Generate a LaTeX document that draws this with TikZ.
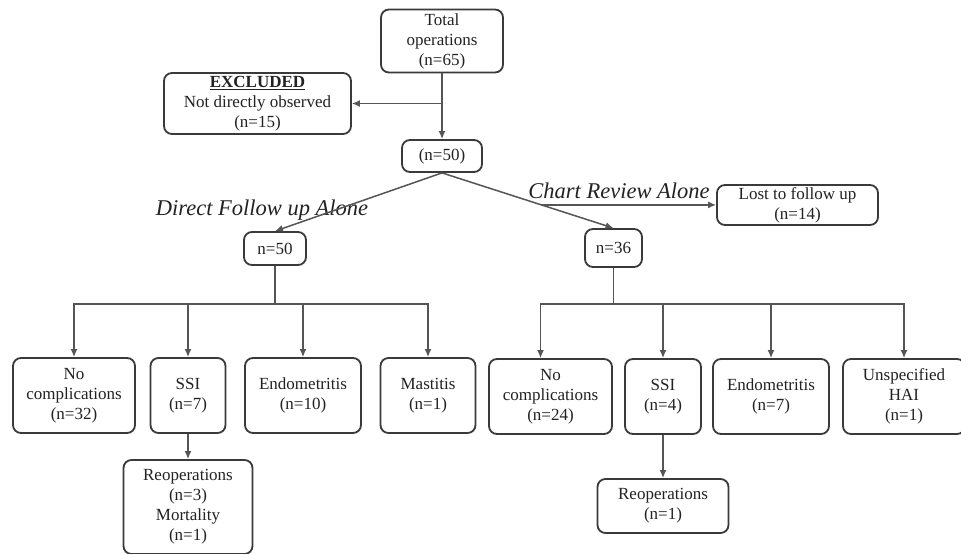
\documentclass[tikz,border=0pt]{standalone}
\usepackage{fontspec}
\setmainfont{Liberation Serif}
\usetikzlibrary{arrows.meta,calc}
\definecolor{boxline}{HTML}{3A3A3A}
\definecolor{conline}{HTML}{555555}
\definecolor{txt}{HTML}{222222}
\begin{document}
\begin{tikzpicture}[x=1pt,y=-1pt,
  box/.style={draw=boxline,line width=1.8pt,rounded corners=8pt,align=center,inner sep=0pt,
    text=txt,font=\fontsize{17}{20}\selectfont},
  con/.style={draw=conline,line width=1.5pt},
  arr/.style={con,-{Latex[length=8pt,width=7pt]}},
  lab/.style={font=\fontsize{22.5}{26}\selectfont\itshape,inner sep=0pt,text=txt}]
\useasboundingbox (0,0) rectangle (961,554);
\fill[white] (0,0) rectangle (961,554);
% top
\node[box,minimum width=122pt,minimum height=63pt] (total) at (442,41) {Total\\operations\\(n=65)};
\node[box,minimum width=187pt,minimum height=61pt] (excl) at (257.5,103.5) {\textbf{\underline{EXCLUDED}}\\Not directly observed\\(n=15)};
\node[box,minimum width=80pt,minimum height=32pt] (n50top) at (442,156) {(n=50)};
\node[box,minimum width=62pt,minimum height=33pt] (n50) at (275,248.5) {n=50};
\node[box,minimum width=57pt,minimum height=38pt] (n36) at (613.5,248) {n=36};
\node[box,minimum width=161pt,minimum height=40pt] (lost) at (797.5,205) {Lost to follow up\\(n=14)};
\node[lab] (dfa) at (262,210) {Direct Follow up Alone};
\node[lab] (cra) at (619,191) {Chart Review Alone};
% left children
\node[box,minimum width=122pt,minimum height=75pt] (nc1) at (74,395.5) {No\\complications\\(n=32)};
\node[box,minimum width=75pt,minimum height=75pt] (ssi1) at (188,395.5) {SSI\\(n=7)};
\node[box,minimum width=116pt,minimum height=75pt] (end1) at (303,395.5) {Endometritis\\(n=10)};
\node[box,minimum width=95pt,minimum height=75pt] (mas) at (428,395.5) {Mastitis\\(n=1)};
\node[box,minimum width=129pt,minimum height=94pt] (reo1) at (188,507) {Reoperations\\(n=3)\\Mortality\\(n=1)};
% right children
\node[box,minimum width=123pt,minimum height=75pt] (nc2) at (550.5,396.5) {No\\complications\\(n=24)};
\node[box,minimum width=76pt,minimum height=75pt] (ssi2) at (663,396.5) {SSI\\(n=4)};
\node[box,minimum width=116pt,minimum height=75pt] (end2) at (771,396.5) {Endometritis\\(n=7)};
\node[box,minimum width=122pt,minimum height=75pt] (hai) at (904,396.5) {Unspecified\\HAI\\(n=1)};
\node[box,minimum width=131pt,minimum height=54pt] (reo2) at (663,506) {Reoperations\\(n=1)};
% connectors
\coordinate (j1) at (442,103.5);
\draw[arr] (total) -- (n50top);
\draw[arr] (j1) -- (excl.east);
\draw[arr] (n50top.south) -- (n50.north);
\draw[arr] (n50top.south) -- (n36.north);
\coordinate (j2) at ($(n50top.south)!0.58!(n36.north)$);
\draw[arr] (j2) -- (j2 -| lost.west);
\coordinate (bus1) at (275,304);
\draw[con] (n50.south) -- (bus1);
\draw[arr] (bus1) -| (nc1.north);
\draw[arr] (bus1) -| (ssi1.north);
\draw[arr] (bus1) -| (end1.north);
\draw[arr] (bus1) -| (mas.north);
\draw[arr] (ssi1) -- (reo1);
\coordinate (bus2) at (613.5,304);
\draw[con] (n36.south) -- (bus2);
\draw[arr] (bus2) -| ([xshift=-10pt]nc2.north);
\draw[arr] (bus2) -| (ssi2.north);
\draw[arr] (bus2) -| (end2.north);
\draw[arr] (bus2) -| (hai.north);
\draw[arr] (ssi2) -- (reo2);
\end{tikzpicture}
\end{document}
